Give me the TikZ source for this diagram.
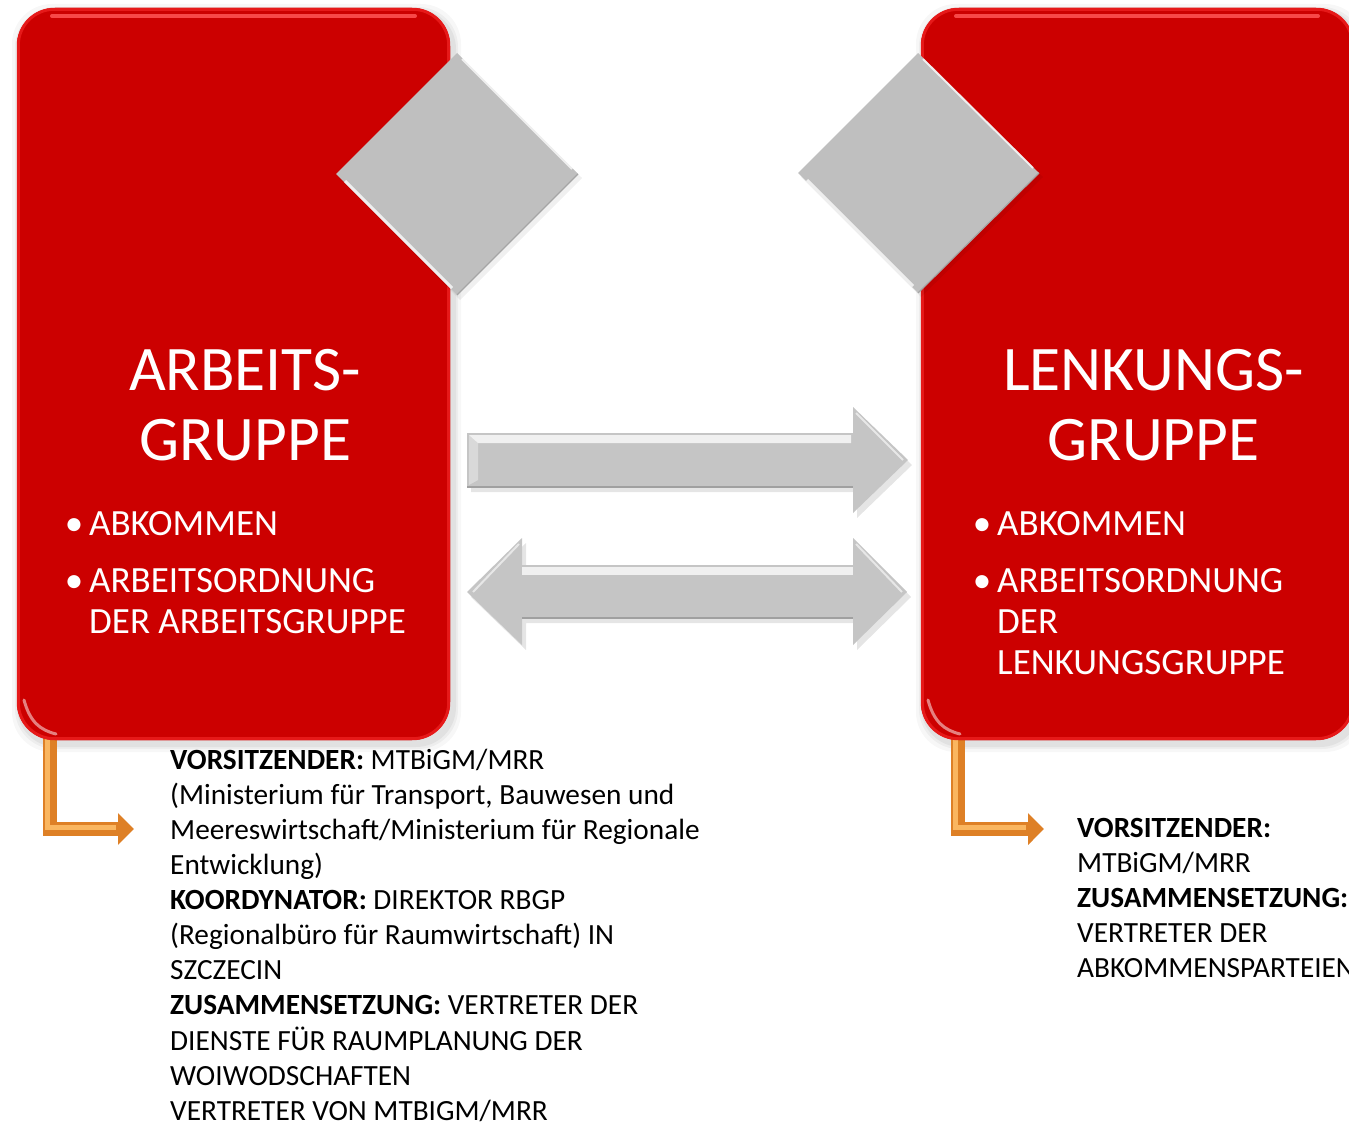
\documentclass[tikz,border=0pt]{standalone}
\usepackage{fontspec}
\setmainfont{Carlito}
\usetikzlibrary{arrows.meta,calc}
\definecolor{boxred}{RGB}{204,0,0}
\definecolor{hired}{RGB}{255,85,85}
\definecolor{edgered}{RGB}{230,25,25}
\definecolor{diagray}{RGB}{191,191,191}
\definecolor{diadark}{RGB}{165,165,165}
\definecolor{arrgray}{RGB}{197,197,197}
\definecolor{arrdark}{RGB}{160,160,160}
\definecolor{ordark}{RGB}{222,128,38}
\definecolor{orlight}{RGB}{250,182,96}
\begin{document}
\begin{tikzpicture}[x=1pt,y=-1pt,
 redbox/.style={fill=boxred, rounded corners=38pt, inner sep=0pt, minimum width=433pt, minimum height=732pt},
 boxshadow/.style={fill=black, rounded corners=40pt},
 titletext/.style={text=white, align=center, anchor=north, inner sep=0pt, font=\fontsize{63.5}{70}\selectfont},
 bullettext/.style={text=white, align=left, anchor=north west, inner sep=0pt, font=\fontsize{37}{41}\selectfont},
 infotext/.style={text=black, align=left, anchor=north west, inner sep=0pt, font=\fontsize{29.3}{35.1}\selectfont},
 diamondface/.style={fill=diagray},
 arrowface/.style={fill=arrgray},
 bevel/.style={white, opacity=0.75},
 orangeconn/.style={line width=14pt, draw=ordark, -{Triangle[length=16pt,width=31pt]}},
 orangehl/.style={line width=5pt, draw=orlight},
]
\useasboundingbox (0,0) rectangle (1349,1124);

% soft shadows of the boxes
\foreach \s/\o in {8/0.03, 5/0.04, 3/0.05}{
  \fill[boxshadow, opacity=\o] (17-\s+3,8-\s+4) rectangle (450+\s+3,740+\s+4);
  \fill[boxshadow, opacity=\o] (921-\s+3,8-\s+4) rectangle (1354+\s+3,740+\s+4);
}

% boxes and orange connectors
\coordinate (agarr) at (134,829);
\coordinate (lgarr) at (1044,829);
\node[redbox] (ag) at (233.5,374) {};
\node[redbox] (lg) at (1137.5,374) {};
\draw[orangeconn] ($(ag.south west)+(33,-12)$) |- (agarr);
\draw[orangehl] ($(ag.south west)+(31,-12)$) |- ($(agarr)+(-18,-2)$);
\draw[orangeconn] ($(lg.south west)+(37,-12)$) |- (lgarr);
\draw[orangehl] ($(lg.south west)+(35,-12)$) |- ($(lgarr)+(-18,-2)$);

% boxes redrawn over the connector starts
\node[redbox] (ag2) at (233.5,374) {};
\node[redbox] (lg2) at (1137.5,374) {};
\draw[edgered, line width=3pt, rounded corners=36pt] ($(ag2.north west)+(1.5,1.5)$) rectangle ($(ag2.south east)+(-1.5,-1.5)$);
\draw[edgered, line width=3pt, rounded corners=36pt] ($(lg2.north west)+(1.5,1.5)$) rectangle ($(lg2.south east)+(-1.5,-1.5)$);
\draw[hired, line width=4pt, line cap=round, opacity=0.85] (52,16) -- (415,16);
\draw[hired, line width=4pt, line cap=round, opacity=0.85] (956,16) -- (1318,16);
\draw[white, opacity=0.5, line width=3pt, line cap=round] (24,700) .. controls (30,722) and (40,730) .. (56,734);
\draw[white, opacity=0.5, line width=3pt, line cap=round] (928,700) .. controls (934,722) and (944,730) .. (960,734);

% diamonds
\fill[black, opacity=0.06] (460,57) -- (582,178) -- (460,300) -- (339,178) -- cycle;
\fill[diamondface] (457,53) -- (578,174) -- (457,295) -- (336,174) -- cycle;
\draw[bevel, line width=3pt] (345,181) -- (452,288);
\draw[bevel, line width=2pt] (462,59) -- (572,169);
\draw[diadark, line width=1.2pt] (578,174) -- (457,295);
\fill[black, opacity=0.06] (921,57) -- (1043,177) -- (921,297) -- (801,177) -- cycle;
\fill[diamondface] (918,53) -- (1039,173) -- (918,293) -- (798,173) -- cycle;
\draw[bevel, line width=3pt] (807,180) -- (913,286);
\draw[bevel, line width=2pt] (923,59) -- (1033,168);
\draw[diadark, line width=1.2pt] (1039,173) -- (918,293);

% single arrow
\fill[black, opacity=0.10] (471,438) -- (857,438) -- (857,412) -- (912,465) -- (857,518) -- (857,492) -- (471,492) -- cycle;
\fill[arrowface] (467,433) -- (853,433) -- (853,407) -- (908,460) -- (853,513) -- (853,487) -- (467,487) -- cycle;
\fill[bevel] (469,435) -- (851,435) -- (851,443) -- (478,443) -- cycle;
\fill[white, opacity=0.35] (469,435) -- (478,443) -- (478,480) -- (469,485) -- cycle;
\draw[arrdark, line width=1.5pt] (467,487) -- (853,487);
\draw[white, opacity=0.6, line width=2pt] (856,413) -- (903,460);

% double arrow
\fill[black, opacity=0.10] (471,597) -- (526,543) -- (526,570) -- (857,570) -- (857,543) -- (911,597) -- (857,650) -- (857,623) -- (526,623) -- (526,650) -- cycle;
\fill[arrowface] (467,592) -- (522,538) -- (522,565) -- (853,565) -- (853,538) -- (907,592) -- (853,645) -- (853,618) -- (522,618) -- (522,645) -- cycle;
\fill[bevel] (522,567) -- (853,567) -- (853,575) -- (522,575) -- cycle;
\draw[arrdark, line width=1.5pt] (522,618) -- (853,618);
\draw[white, opacity=0.6, line width=2pt] (856,544) -- (902,592);
\draw[white, opacity=0.6, line width=2pt] (519,544) -- (473,592);

% texts in the boxes
\node[titletext] (agt) at (245,342) {\rule{0pt}{48pt}ARBEITS-\\GRUPPE};
\node[titletext] (lgt) at (1153.5,342) {\rule{0pt}{48pt}LENKUNGS-\\GRUPPE};
\node[bullettext] (agb) at (89,505) {\rule{0pt}{30pt}\llap{\textbullet\hspace{6pt}}ABKOMMEN\\[16pt]\llap{\textbullet\hspace{6pt}}ARBEITSORDNUNG\\DER ARBEITSGRUPPE};
\node[bullettext] (lgb) at (997,505) {\rule{0pt}{30pt}\llap{\textbullet\hspace{6pt}}ABKOMMEN\\[16pt]\llap{\textbullet\hspace{6pt}}ARBEITSORDNUNG\\DER\\LENKUNGSGRUPPE};

% info texts
\node[infotext] (agi) at (170,744) {\rule{0pt}{25pt}\textbf{VORSITZENDER:} MTBiGM/MRR\\
(Ministerium für Transport, Bauwesen und\\
Meereswirtschaft/Ministerium für Regionale\\
Entwicklung)\\
\textbf{KOORDYNATOR:} DIREKTOR RBGP\\
(Regionalbüro für Raumwirtschaft) IN\\
SZCZECIN\\
\textbf{ZUSAMMENSETZUNG:} VERTRETER DER\\
DIENSTE FÜR RAUMPLANUNG DER\\
WOIWODSCHAFTEN\\
VERTRETER VON MTBIGM/MRR};
\node[infotext] (lgi) at (1077,812) {\rule{0pt}{25pt}\textbf{VORSITZENDER:}\\
MTBiGM/MRR\\
\textbf{ZUSAMMENSETZUNG:}\\
VERTRETER DER\\
ABKOMMENSPARTEIEN};
\end{tikzpicture}
\end{document}
